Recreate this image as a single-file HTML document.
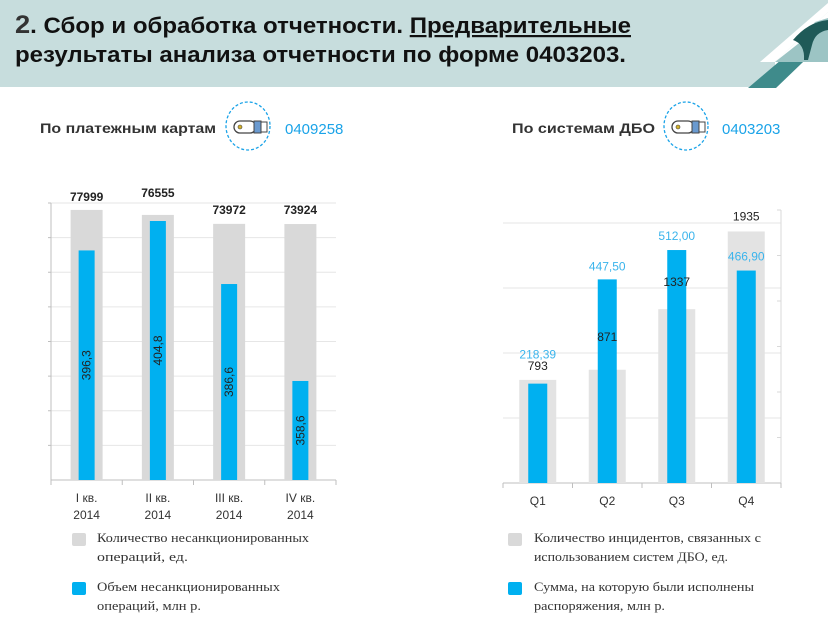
<!DOCTYPE html>
<html><head><meta charset="utf-8"><style>
html,body{margin:0;padding:0;background:#fff;}
svg{display:block;font-family:"Liberation Sans","DejaVu Sans",sans-serif;}
</style></head><body>
<svg width="828" height="630" viewBox="0 0 828 630" xmlns="http://www.w3.org/2000/svg">
<g>
<rect x="0" y="0" width="828" height="87" fill="#c7dddd"/>
<polygon points="828,3 828,12 775,62 760,62" fill="#ffffff"/>
<polygon points="775,62 828,12 828,87 775,87" fill="#ffffff"/>
<polygon points="748,88 776,88 828,38 828,20" fill="#3f8b8b"/>
<polygon points="775,62 803,40 815,22 828,18 828,62" fill="#9cc4c4"/>
<path d="M793,40 Q808,22 828,20 L828,30 Q815,32 812,45 L808,60 L804,60 Q805,44 793,40Z" fill="#1f5a58"/>
<text x="15" y="33" font-size="22" font-weight="bold" fill="#111" textLength="616" lengthAdjust="spacingAndGlyphs"><tspan font-size="25" fill="#333">2</tspan>. Сбор и обработка отчетности. <tspan text-decoration="underline">Предварительные</tspan></text>
<text x="15" y="62" font-size="22" font-weight="bold" fill="#111" textLength="611" lengthAdjust="spacingAndGlyphs">результаты анализа отчетности по форме 0403203.</text>
</g>
<g>
<text x="40" y="133" font-size="14" font-weight="bold" fill="#333" textLength="176" lengthAdjust="spacingAndGlyphs">По платежным картам</text>
<ellipse cx="248" cy="126" rx="22" ry="24" fill="none" stroke="#1aa3e8" stroke-width="1.3" stroke-dasharray="3,2"/>
<rect x="234" y="121" width="22" height="12" rx="6" fill="#fff" stroke="#444" stroke-width="1.3"/>
<rect x="254" y="121" width="7" height="12" fill="#6a9ad0" stroke="#444" stroke-width="1"/>
<rect x="261" y="122" width="6" height="10" fill="#fff" stroke="#444" stroke-width="1"/>
<circle cx="240" cy="127" r="2" fill="#d4b22a" stroke="#444" stroke-width="0.6"/>
<text x="285" y="134" font-size="15" fill="#1aa3e8">0409258</text>
</g>
<g>
<text x="512" y="133" font-size="14" font-weight="bold" fill="#333" textLength="143" lengthAdjust="spacingAndGlyphs">По системам ДБО</text>
<ellipse cx="686" cy="126" rx="22" ry="24" fill="none" stroke="#1aa3e8" stroke-width="1.3" stroke-dasharray="3,2"/>
<rect x="672" y="121" width="22" height="12" rx="6" fill="#fff" stroke="#444" stroke-width="1.3"/>
<rect x="692" y="121" width="7" height="12" fill="#6a9ad0" stroke="#444" stroke-width="1"/>
<rect x="699" y="122" width="6" height="10" fill="#fff" stroke="#444" stroke-width="1"/>
<circle cx="678" cy="127" r="2" fill="#d4b22a" stroke="#444" stroke-width="0.6"/>
<text x="722" y="134" font-size="15" fill="#1aa3e8">0403203</text>
</g>
<g id="left-chart"></g>
<g id="right-chart"></g>
<g font-family="Liberation Serif, DejaVu Serif, serif" font-size="13" fill="#333">
<rect x="72" y="533" width="14" height="13" rx="2" fill="#d9d9d9"/>
<text x="97" y="542" textLength="212" lengthAdjust="spacingAndGlyphs">Количество несанкционированных</text>
<text x="97" y="561" textLength="91" lengthAdjust="spacingAndGlyphs">операций, ед.</text>
<rect x="72" y="582" width="14" height="13" rx="2" fill="#00b0f0"/>
<text x="97" y="591" textLength="183" lengthAdjust="spacingAndGlyphs">Объем несанкционированных</text>
<text x="97" y="610" textLength="104" lengthAdjust="spacingAndGlyphs">операций, млн р.</text>
<rect x="508" y="533" width="14" height="13" rx="2" fill="#d9d9d9"/>
<text x="534" y="542" textLength="227" lengthAdjust="spacingAndGlyphs">Количество инцидентов, связанных с</text>
<text x="534" y="561" textLength="194" lengthAdjust="spacingAndGlyphs">использованием систем ДБО, ед.</text>
<rect x="508" y="582" width="14" height="13" rx="2" fill="#00b0f0"/>
<text x="534" y="591" textLength="220" lengthAdjust="spacingAndGlyphs">Сумма, на которую были исполнены</text>
<text x="534" y="610" textLength="131" lengthAdjust="spacingAndGlyphs">распоряжения, млн р.</text>
</g>
</svg>
<script>
const NS="http://www.w3.org/2000/svg";
// Left chart data
const cardCategories=["I кв.|2014","II кв.|2014","III кв.|2014","IV кв.|2014"];
const cardCounts=[77999,76555,73972,73924];
const cardVolumes=[396.3,404.8,386.6,358.6];
const cardVolumeLabels=["396,3","404,8","386,6","358,6"];
// Right chart data
const rbsCategories=["Q1","Q2","Q3","Q4"];
const rbsIncidents=[793,871,1337,1935];
const rbsSums=[218.39,447.5,512.0,466.9];
const rbsSumLabels=["218,39","447,50","512,00","466,90"];

function mk(tag,attrs,parent){const e=document.createElementNS(NS,tag);for(const k in attrs)e.setAttribute(k,attrs[k]);parent.appendChild(e);return e;}

(function(){
const g=document.getElementById('left-chart');
const x0=51,x1=336,yb=480,yt=203;
const yL=v=>yb-(v/80000)*(yb-yt);
const yR=v=>yb-((v-330)/80)*(yb-yt);
const bw=(x1-x0)/cardCategories.length;
for(let i=1;i<=8;i++){const l=mk('line',{x1:x0,x2:x1,y1:yL(i*10000),y2:yL(i*10000),stroke:'#e6e6e6','stroke-width':1},g);
}
const ax=mk('line',{x1:x0,x2:x0,y1:yt,y2:yb,stroke:'#bfbfbf'},g);

for(let i=1;i<=8;i++)mk('line',{x1:x0-3,x2:x0,y1:yL(i*10000),y2:yL(i*10000),stroke:'#bfbfbf'},g);
const xa=mk('line',{x1:x0,x2:x1,y1:yb,y2:yb,stroke:'#bfbfbf'},g);

const offs=[13,22,14,14];
cardCategories.forEach((c,i)=>{
 const cx=x0+bw*(i+0.5);
 mk('line',{x1:x0+bw*i,x2:x0+bw*i,y1:yb,y2:yb+5,stroke:'#bfbfbf'},g);
 const gb=mk('rect',{x:cx-16,y:yL(cardCounts[i]),width:32,height:yb-yL(cardCounts[i]),fill:'#d9d9d9'},g);
 
 const bb=mk('rect',{x:cx-8,y:yR(cardVolumes[i]),width:16,height:yb-yR(cardVolumes[i]),fill:'#00b0f0'},g);
 
 const t=mk('text',{x:cx,y:yL(cardCounts[i])-offs[i]+4,'text-anchor':'middle','font-size':12,'font-weight':'bold',fill:'#222'},g);
 t.textContent=cardCounts[i];
 const my=(yR(cardVolumes[i])+yb)/2;
 const v=mk('text',{x:cx+4,y:my,'text-anchor':'middle','font-size':12,fill:'#222',transform:`rotate(-90 ${cx+4} ${my})`},g);
 v.textContent=cardVolumeLabels[i];
 const p=c.split('|');
 const a=mk('text',{x:cx,y:502,'text-anchor':'middle','font-size':12,fill:'#333'},g);a.textContent=p[0];
 
 const b=mk('text',{x:cx,y:519,'text-anchor':'middle','font-size':12,fill:'#333'},g);b.textContent=p[1];
 
});
mk('line',{x1:x1,x2:x1,y1:yb,y2:yb+5,stroke:'#bfbfbf'},g);
})();

(function(){
const g=document.getElementById('right-chart');
const x0=503,x1=781,yb=483,yt=210;
const yL=v=>yb-(v/2000)*260;
const yR=v=>yb-(v/600)*(yb-yt);
const bw=(x1-x0)/rbsCategories.length;
for(let i=1;i<=4;i++){const l=mk('line',{x1:x0,x2:x1,y1:yL(i*500),y2:yL(i*500),stroke:'#e6e6e6'},g);
}
const ra=mk('line',{x1:x1,x2:x1,y1:yt,y2:yb,stroke:'#d9d9d9'},g);

for(let i=1;i<=6;i++)mk('line',{x1:x1,x2:x1-4,y1:yR(i*100),y2:yR(i*100),stroke:'#d9d9d9'},g);
const xa=mk('line',{x1:x0,x2:x1,y1:yb,y2:yb,stroke:'#bfbfbf'},g);

const goff=[14,33,27,15];
const soff=[29,13,14,14];
rbsCategories.forEach((c,i)=>{
 const cx=x0+bw*(i+0.5);
 mk('line',{x1:x0+bw*i,x2:x0+bw*i,y1:yb,y2:yb+5,stroke:'#bfbfbf'},g);
 const gb=mk('rect',{x:cx-18.5,y:yL(rbsIncidents[i]),width:37,height:yb-yL(rbsIncidents[i]),fill:'#e3e3e3'},g);
 
 const bb=mk('rect',{x:cx-9.5,y:yR(rbsSums[i]),width:19,height:yb-yR(rbsSums[i]),fill:'#00b0f0'},g);
 
 const s=mk('text',{x:cx,y:yR(rbsSums[i])-soff[i]+4,'text-anchor':'middle','font-size':12,fill:'#3ab4ec'},g);
 s.textContent=rbsSumLabels[i];
 const t=mk('text',{x:cx,y:yL(rbsIncidents[i])-goff[i]+4,'text-anchor':'middle','font-size':12,fill:'#222'},g);
 t.textContent=rbsIncidents[i];
 const a=mk('text',{x:cx,y:505,'text-anchor':'middle','font-size':12,fill:'#333'},g);a.textContent=c;
 
});
mk('line',{x1:x1,x2:x1,y1:yb,y2:yb+5,stroke:'#bfbfbf'},g);
})();
</script>
</body></html>
